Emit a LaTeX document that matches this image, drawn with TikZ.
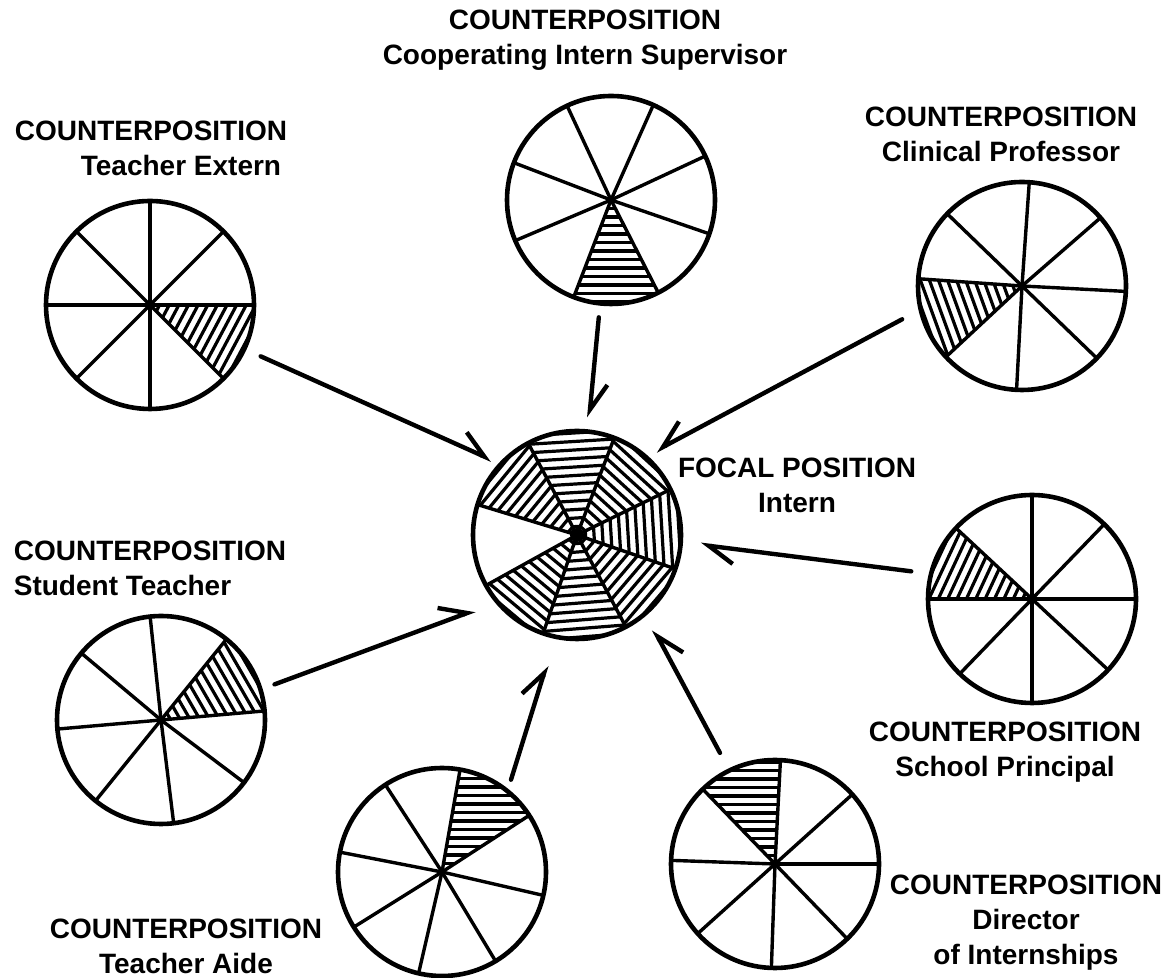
\documentclass[tikz,border=0pt]{standalone}
\usepackage{fontspec}
\setmainfont{Liberation Sans}
\usepackage{tikz}
\usetikzlibrary{arrows.meta, positioning}

% spokes of one role circle, drawn from its centre
\newcommand\spokes[2]{%
  \foreach \a in {#2} \draw[spoke] (#1.center) -- (#1.\a);
  \fill (#1.center) circle (3.5);}
% one hatched sector: node, from angle, to angle, angle of the hatch lines
\newcommand\hatch[4]{%
  \begin{scope}[shift={(#1.center)}]
    \clip (0,0) -- (#2:104) arc[start angle=#2, end angle=#3, radius=104] -- cycle;
    \foreach \k in {-14,...,14}
      \draw[hatchline, rotate=#4] (-125,\k*8.5) -- (125,\k*8.5);
  \end{scope}}

\begin{document}
\begin{tikzpicture}[x=0.5pt, y=0.5pt,
        pie/.style={circle, draw, line width=2.3pt, minimum size=104pt,
                    inner sep=0pt, outer sep=0pt},
        spoke/.style={line width=1.7pt},
        hatchline/.style={line width=1.6pt},
        role/.style={font=\fontsize{14}{17.5}\selectfont\bfseries,
                     align=center, inner sep=0pt},
        flow/.style={line width=2.2pt, line cap=round,
                     -{Straight Barb[harpoon, length=13pt, width=15pt]}},
        flowswap/.style={line width=2.2pt, line cap=round,
                     -{Straight Barb[harpoon, swap, length=13pt, width=15pt]}},
      ]
        \useasboundingbox (0,0) rectangle (1171,978);

        % role circles
        \node[pie] (extern) at (150,673) {};
        \node[pie] (supervisor) at (611,778) {};
        \node[pie] (professor) at (1022,692) {};
        \node[pie] (focal) at (577,443) {};
        \node[pie] (principal) at (1032,379) {};
        \node[pie] (student) at (161,258) {};
        \node[pie] (aide) at (442,106) {};
        \node[pie] (director) at (775,114) {};

        % hatched sectors
        \hatch{extern}{-45}{0}{62}
        \hatch{supervisor}{-111}{-63}{0}
        \hatch{professor}{176}{223}{-70}
        \hatch{principal}{137}{180}{65}
        \hatch{student}{5}{51}{-60}
        \hatch{aide}{33}{80}{0}
        \hatch{director}{87}{134}{0}
        \hatch{focal}{-151}{-109}{-40}
        \hatch{focal}{-109}{-62}{4.5}
        \hatch{focal}{-62}{-19}{49.5}
        \hatch{focal}{-19}{26}{93.5}
        \hatch{focal}{26}{69}{137.5}
        \hatch{focal}{69}{118}{183.5}
        \hatch{focal}{118}{163}{230.5}

        \spokes{extern}{90,45,0,-45,-90,-135,180,135}
        \spokes{supervisor}{115,66,25,-19,-63,-111,-157,159}
        \spokes{professor}{86,41,-3,-44,-93,-137,176,136}
        \spokes{focal}{118,69,26,-19,-62,-109,-151,163}
        \spokes{principal}{90,46,0,-43,-90,-134,180,137}
        \spokes{student}{96,51,5,-37,-83,-129,185,140}
        \spokes{aide}{80,33,-13,-59,-103,-148,169,123}
        \spokes{director}{87,42,0,-46,-92,-138,178,134}
        \fill (focal.center) circle (7);

        % labels
        \node[role] (supervisorlbl) at (585,938) {COUNTERPOSITION\\Cooperating Intern Supervisor};
        \node[role] (externlbl) at (151,830) {COUNTERPOSITION\\\hspace*{30pt}Teacher Extern};
        \node[role] (professorlbl) at (1001,844) {COUNTERPOSITION\\Clinical Professor};
        \node[role] (focallbl) at (797,493) {FOCAL POSITION\\Intern};
        \node[role, align=left] (studentlbl) at (150,410) {COUNTERPOSITION\\Student Teacher};
        \node[role] (principallbl) at (1005,226) {COUNTERPOSITION\\School Principal};
        \node[role] (aidelbl) at (186,32) {COUNTERPOSITION\\Teacher Aide};
        \node[role] (directorlbl) at (1026,55) {COUNTERPOSITION\\Director\\of Internships};

        % expectations sent to the focal position
        \draw[flow, shorten <=9pt, shorten >=5pt] (extern.-25) -- (focal.137.5);
        \draw[flow, shorten <=7pt, shorten >=7pt] (supervisor.-96) -- (focal.84);
        \draw[flowswap, shorten <=10.5pt, shorten >=6pt] (professor.193) -- (focal.49.6);
        \draw[flow, shorten <=10pt, shorten >=10pt] (principal.166.4) -- (focal.-4.6);
        \draw[flow, shorten <=7.5pt, shorten >=12pt] (student.17) -- (focal.220);
        \draw[flow, shorten <=6pt, shorten >=15pt] (aide.51.6) -- (focal.-102.3);
        \draw[flowswap, shorten <=10pt, shorten >=9pt] (director.116.2) -- (focal.-49.3);
      \end{tikzpicture}
\end{document}
